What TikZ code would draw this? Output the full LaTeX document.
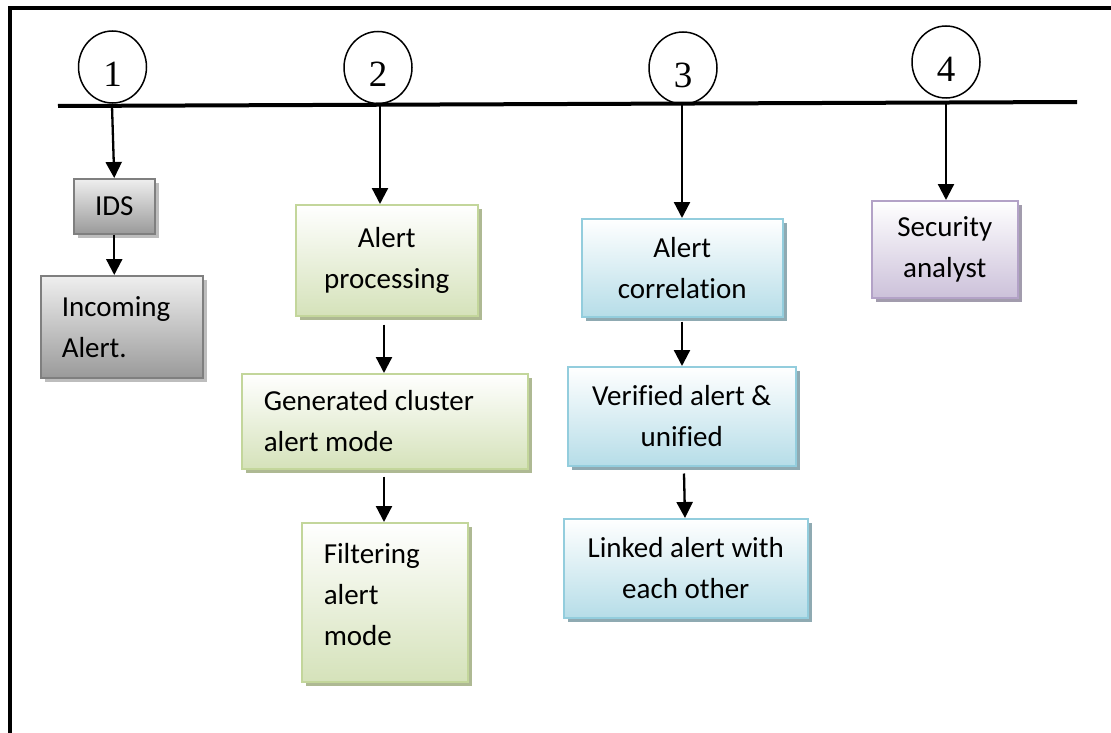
\documentclass[tikz,border=0pt]{standalone}
\usepackage{fontspec}
\setmainfont{Carlito}[Ligatures=NoCommon]
\newfontfamily\numfont{Liberation Serif}
\usetikzlibrary{arrows.meta,shadows,shapes.geometric}
\definecolor{grayB}{HTML}{7F7F7F}
\definecolor{grayT}{HTML}{EFEFEF}
\definecolor{grayE}{HTML}{9A9A9A}
\definecolor{grayS}{HTML}{BDBDBD}
\definecolor{greenB}{HTML}{C3D69B}
\definecolor{greenE}{HTML}{D5E2BA}
\definecolor{greenS}{HTML}{AEB993}
\definecolor{blueB}{HTML}{93CDDD}
\definecolor{blueE}{HTML}{B6DDE8}
\definecolor{blueS}{HTML}{8FAAB2}
\definecolor{purpB}{HTML}{B3A2C7}
\definecolor{purpE}{HTML}{CCC1DA}
\definecolor{purpS}{HTML}{A29CAD}
\begin{document}
\begin{tikzpicture}[x=1pt,y=-1pt,
  box/.style={rectangle, line width=1.5pt, inner sep=0pt, anchor=north west,
    font=\fontsize{29}{41}\selectfont},
  graybox/.style={box, draw=grayB, top color=grayT, bottom color=grayE,
    drop shadow={shadow xshift=4pt, shadow yshift=-4pt, fill=grayS, opacity=1}},
  greenbox/.style={box, draw=greenB, top color=white, bottom color=greenE,
    drop shadow={shadow xshift=4pt, shadow yshift=-4pt, fill=greenS, opacity=1}},
  bluebox/.style={box, draw=blueB, top color=white, bottom color=blueE,
    drop shadow={shadow xshift=4pt, shadow yshift=-4pt, fill=blueS, opacity=1}},
  purpbox/.style={box, draw=purpB, top color=white, bottom color=purpE,
    drop shadow={shadow xshift=4pt, shadow yshift=-4pt, fill=purpS, opacity=1}},
  arr/.style={line width=2.3pt, -{Triangle[width=16pt,length=16pt]}},
  numc/.style={ellipse, draw, line width=1.5pt, minimum width=68pt, minimum height=72pt,
    inner sep=0pt, font=\numfont\fontsize{37}{37}\selectfont, text height=39pt, text depth=0pt}
]
\useasboundingbox (0,0) rectangle (1111,733);
% frame
\draw[line width=4pt] (10,733) -- (10,8) -- (1111,8);
% timeline
\coordinate (L0) at (58,106);
\coordinate (L1) at (1077,102);
\draw[line width=4pt] (L0) -- (L1);
% step circles
\node[numc] (c1) at (112.5,67) {1};
\node[numc] (c2) at (378,67.5) {2};
\node[numc] (c3) at (683,68) {3};
\node[numc] (c4) at (946,62) {4};
% start points on timeline
\coordinate (s1) at (112,106);
\coordinate (s2) at (380,105);
\coordinate (s3) at (682,104);
\coordinate (s4) at (946,103);
% boxes
\node[graybox, minimum width=81pt, minimum height=55pt] (ids) at (73,178) {IDS};
\node[graybox, minimum width=162pt, minimum height=102pt, text width=120pt, align=flush left] (inc) at (40,275) {Incoming\\Alert.};
\node[greenbox, minimum width=182pt, minimum height=111pt, align=center] (proc) at (295,204) {Alert\\processing};
\node[greenbox, minimum width=286pt, minimum height=95pt, text width=242pt, align=flush left] (gen) at (241,373) {Generated cluster\\alert mode};
\node[greenbox, minimum width=166pt, minimum height=159pt, text width=122pt, align=flush left] (filt) at (301,522) {Filtering\\alert\\mode\\[-26pt]\mbox{}};
\node[bluebox, minimum width=201pt, minimum height=98pt, align=center] (corr) at (581,218) {Alert\\correlation};
\node[bluebox, minimum width=228pt, minimum height=99pt, align=center] (ver) at (567,366) {Verified alert \&\\unified};
\node[bluebox, minimum width=244pt, minimum height=99pt, align=center] (link) at (563,518) {Linked alert with\\each other};
\node[purpbox, minimum width=146pt, minimum height=97pt, align=center] (sec) at (871,200) {Security\\analyst};
% arrows
\draw[arr] (s1) -- (ids.north);
\draw[arr] (ids.south) -- (inc.north -| ids.south);
\draw[arr] (s2) -- (proc.north -| s2);
\draw[arr] ([yshift=-8pt]proc.south -| 384,0) -- (gen.north -| 384,0);
\draw[arr] ([yshift=-7pt]gen.south -| 384,0) -- (filt.north -| 384,0);
\draw[arr] (s3) -- (corr.north -| s3);
\draw[arr] ([yshift=-4pt]corr.south -| 682,0) -- (ver.north -| 682,0);
\draw[arr] ([yshift=-7pt]ver.south -| 684,0) -- (link.north -| 685,0);
\draw[arr] (s4) -- (sec.north -| s4);
\end{tikzpicture}
\end{document}
